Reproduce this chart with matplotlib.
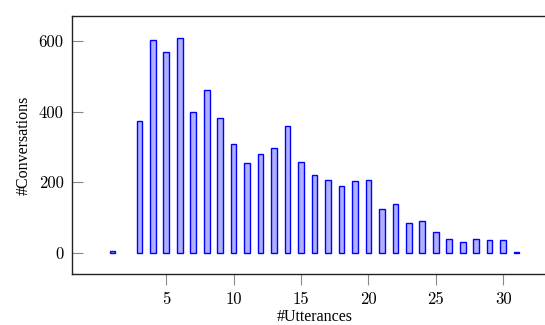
import matplotlib.pyplot as plt
import numpy as np

utterances = [1, 3, 4, 5, 6, 7, 8, 9, 10, 11, 12, 13, 14, 15, 16, 17, 18, 19, 20,
              21, 22, 23, 24, 25, 26, 27, 28, 29, 30, 31]
conversations = [3, 373, 604, 570, 610, 398, 460, 382, 307, 254, 279, 297, 358, 256,
                 219, 207, 188, 203, 207, 124, 139, 84, 90, 58, 39, 31, 39, 36, 36, 2]
xticks = [5, 10, 15, 20, 25, 30]
yticks = [0, 200, 400, 600]

fig = plt.figure(figsize=(5.45, 3.25), dpi=100)
ax = fig.add_axes([72/545, 51/325, 485/545, 258/325])

ax.bar(utterances, conversations, width=0.42, color='#b0b0ff', edgecolor='#0000ff', linewidth=1.0)

ax.set_xlim(-2, 34)
ax.set_ylim(-61, 671)
ax.set_xticks(xticks)
ax.set_yticks(yticks)
ax.tick_params(axis='y', direction='in', length=8, width=0.8, color='#888888', pad=6)
ax.tick_params(axis='x', direction='out', length=8, width=0.8, color='#888888', pad=5)
for lab in ax.get_xticklabels() + ax.get_yticklabels():
    lab.set_fontfamily('cmr10')
    lab.set_fontsize(12)
for s in ax.spines.values():
    s.set_linewidth(1.0)
    s.set_color('#222222')
ax.spines['right'].set_visible(False)

ax.set_xlabel('#Utterances', family='Liberation Serif', fontsize=11.5, labelpad=1)
ax.set_ylabel('#Conversations', family='Liberation Serif', fontsize=11.5, labelpad=5)

fig.savefig('out.png', dpi=100)
